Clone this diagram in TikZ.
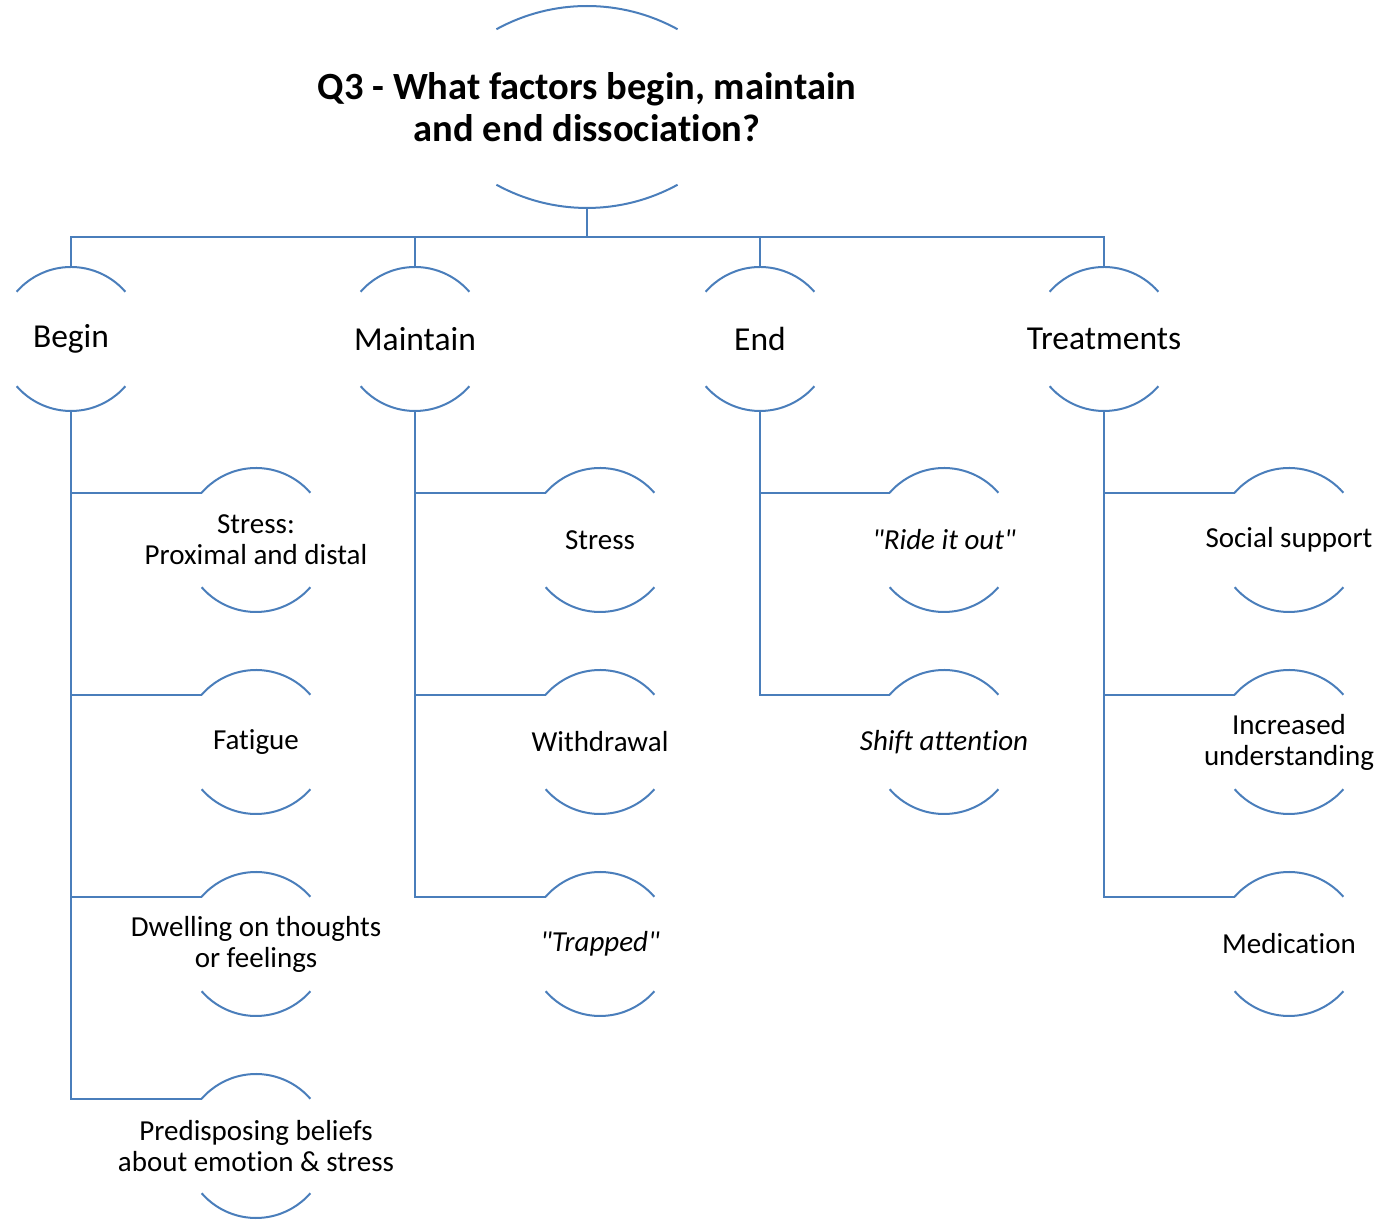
\documentclass[tikz,border=0pt]{standalone}
\usepackage{fontspec}
\setmainfont{Carlito}[Ligatures={TeXOff,NoCommon}]
\definecolor{linkblue}{RGB}{74,126,187}

\begin{document}
\begin{tikzpicture}[x=1pt,y=1pt]
\tikzstyle{link}=[draw=linkblue,line width=2pt]
\tikzstyle{ring}=[shape=circle,minimum size=144pt,inner sep=0pt,outer sep=0pt]
\tikzstyle{headtext}=[font=\fontsize{33.5}{38}\selectfont]
\tikzstyle{leaftext}=[align=center,font=\fontsize{29}{31}\selectfont]
\useasboundingbox (0,0) rectangle (1383,1220);
% question
\node [align=center,font=\bfseries\fontsize{38.5}{42}\selectfont] (q3) at (587,1113) {Q3 - What factors begin, maintain\\and end dissociation?};
\coordinate (q3base) at (587,1012);
\coordinate (bus) at (587,983);
% phases
\node [ring,label={[headtext]center:Begin}] (begin) at (71,881) {};
\node [ring,label={[headtext]center:Maintain}] (maintain) at (415,881) {};
\node [ring,label={[headtext]center:End}] (ending) at (760,881) {};
\node [ring,label={[headtext]center:Treatments}] (treat) at (1104,881) {};
% factors
\node [ring,label={[leaftext]center:{Stress:\\Proximal and distal}}] (stressb) at (256,680) {};
\node [ring,label={[leaftext]center:Fatigue}] (fatigue) at (256,478) {};
\node [ring,label={[leaftext]center:{Dwelling on thoughts\\or feelings}}] (dwell) at (256,276) {};
\node [ring,label={[leaftext]center:{Predisposing beliefs\\about emotion \& stress}}] (predisp) at (256,74) {};
\node [ring,label={[leaftext]center:Stress}] (stressm) at (600,680) {};
\node [ring,label={[leaftext]center:Withdrawal}] (withdraw) at (600,478) {};
\node [ring,label={[leaftext]center:{\itshape "Trapped"}}] (trapped) at (600,276) {};
\node [ring,label={[leaftext]center:{\itshape "Ride it out"}}] (ride) at (944,680) {};
\node [ring,label={[leaftext]center:{\itshape Shift attention}}] (shift) at (944,478) {};
\node [ring,label={[leaftext]center:Social support}] (social) at (1289,680) {};
\node [ring,label={[leaftext]center:{Increased\\understanding}}] (underst) at (1289,478) {};
\node [ring,label={[leaftext]center:Medication}] (medic) at (1289,276) {};
% brackets
\draw [link] ([yshift=-87pt]q3.center) ++(61.2:188pt) arc [start angle=61.2,end angle=118.8,radius=188pt];
\draw [link] ([yshift=87pt]q3.center) ++(-118.8:188pt) arc [start angle=-118.8,end angle=-61.2,radius=188pt];
\foreach \n in {begin,maintain,ending,treat,stressb,fatigue,dwell,predisp,stressm,withdraw,trapped,ride,shift,social,underst,medic}
\draw [link] (\n.41) arc [start angle=41,end angle=139,radius=72pt]
(\n.-139) arc [start angle=-139,end angle=-41,radius=72pt];
% tree
\draw [link] (q3base) -- (bus)
(bus) -| (begin.north)
(bus) -| (maintain.north)
(bus) -| (ending.north)
(bus) -| (treat.north);
\draw [link] (begin.south) |- (stressb.139)
(begin.south) |- (fatigue.139)
(begin.south) |- (dwell.139)
(begin.south) |- (predisp.139)
(maintain.south) |- (stressm.139)
(maintain.south) |- (withdraw.139)
(maintain.south) |- (trapped.139)
(ending.south) |- (ride.139)
(ending.south) |- (shift.139)
(treat.south) |- (social.139)
(treat.south) |- (underst.139)
(treat.south) |- (medic.139);
\end{tikzpicture}
\end{document}
